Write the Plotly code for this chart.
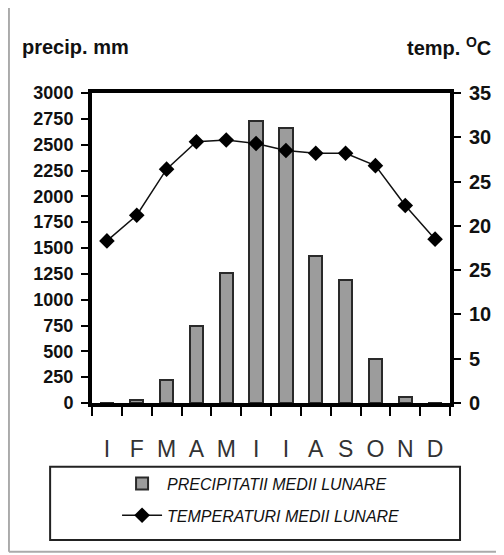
import plotly.graph_objects as go

months = ["I", "F", "M", "A", "M", "I", "I", "A", "S", "O", "N", "D"]
month_pos = list(range(1, 13))
precip = [0, 30, 225, 750, 1260, 2730, 2660, 1425, 1190, 430, 60, 0]
temp = [18.3, 21.2, 26.4, 29.5, 29.7, 29.3, 28.5, 28.2, 28.2, 26.8, 22.3, 18.5]
left_ticks = list(range(0, 3001, 250))
right_tickvals = [0, 5, 10, 15, 20, 25, 30, 35]
right_ticktext = ["0", "5", "10", "25", "20", "25", "30", "35"]

BOLD = "Liberation Sans, Arial, sans-serif"

fig = go.Figure()
fig.add_trace(go.Bar(
    x=month_pos, y=precip, name="PRECIPITATII MEDII LUNARE", legendgroup="p",
    width=0.45, marker=dict(color="#9c9c9c", line=dict(color="#2a2a2a", width=2)),
    yaxis="y",
))
fig.add_trace(go.Scatter(
    x=month_pos, y=temp, name="TEMPERATURI MEDII LUNARE", mode="lines+markers", legendgroup="t",
    line=dict(color="#111111", width=1.5),
    marker=dict(symbol="diamond", size=12, color="#000000"),
    yaxis="y2",
))

fig.update_layout(
    width=496, height=547,
    margin=dict(l=84, r=54, t=85, b=152, autoexpand=False),
    paper_bgcolor="white", plot_bgcolor="white",
    showlegend=True,
    bargap=0,
    xaxis=dict(
        range=[0.5, 12.5], tickmode="array", tickvals=month_pos, ticktext=months,
        ticks="", showgrid=False, zeroline=False, automargin=False,
        showline=True, linecolor="#000000", linewidth=4, mirror=True,
        tickfont=dict(family="Liberation Sans, Arial, sans-serif", size=23, color="#333333"),
        ticklabelstandoff=22,
        minor=dict(tick0=0.5, dtick=1, ticks="outside", ticklen=9, tickwidth=2, tickcolor="#000000"),
    ),
    yaxis=dict(
        range=[0, 3000], tickmode="array", tickvals=left_ticks, automargin=False,
        ticks="outside", ticklen=7, tickwidth=2, tickcolor="#000000",
        showgrid=False, zeroline=False,
        showline=True, linecolor="#000000", linewidth=4,
        tickfont=dict(family=BOLD, size=18, color="#111111", weight="bold"),
        ticklabelstandoff=4,
    ),
    yaxis2=dict(
        range=[0, 35], overlaying="y", side="right", tickmode="array", automargin=False,
        tickvals=right_tickvals, ticktext=right_ticktext,
        ticks="outside", ticklen=7, tickwidth=2, tickcolor="#000000",
        showgrid=False, zeroline=False,
        showline=True, linecolor="#000000", linewidth=4,
        tickfont=dict(family=BOLD, size=20, color="#111111", weight="bold"),
        ticklabelstandoff=4,
    ),
    legend=dict(
        x=0.07, xanchor="left", y=-0.205, yanchor="top",
        orientation="v", bgcolor="rgba(0,0,0,0)", borderwidth=0,
        font=dict(family=BOLD, size=16, color="#111111", style="italic"),
        itemwidth=40, tracegroupgap=8,
    ),
    annotations=[
        dict(text="precip. mm", xref="paper", yref="paper", x=-0.2, y=1.15,
             xanchor="left", yanchor="middle", showarrow=False,
             font=dict(family=BOLD, size=20, color="#111111", weight="bold")),
        dict(text="temp. <sup>O</sup>C", xref="paper", yref="paper", x=1.12, y=1.15,
             xanchor="right", yanchor="middle", showarrow=False,
             font=dict(family=BOLD, size=20, color="#111111", weight="bold")),
    ],
    shapes=[
        dict(type="rect", xref="paper", yref="paper", x0=-0.117, x1=1.028, y0=-0.442, y1=-0.206,
             line=dict(color="#222222", width=2)),
        dict(type="line", xref="paper", yref="paper", x0=-0.232, x1=-0.232, y0=-0.48, y1=1.30,
             line=dict(color="#aaaaaa", width=2)),
        dict(type="line", xref="paper", yref="paper", x0=-0.232, x1=1.15, y0=-0.48, y1=-0.48,
             line=dict(color="#aaaaaa", width=2)),
    ],
)

fig.write_html("out.html")
